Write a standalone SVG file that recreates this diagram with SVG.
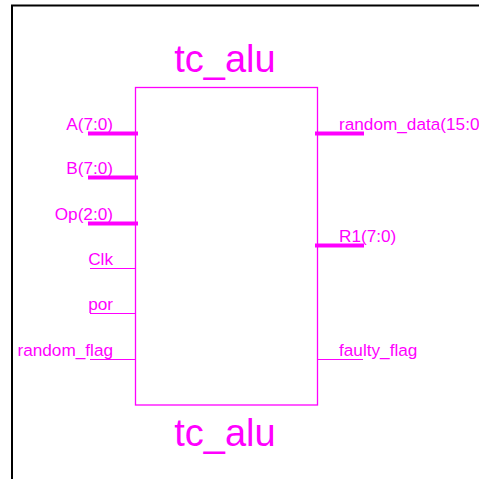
<svg xmlns="http://www.w3.org/2000/svg" width="479" height="479" viewBox="0 0 479 479">
<style>
.t{font-family:"Liberation Sans",Arial,sans-serif;fill:#ff00ff;font-size:17.2px}
.title{font-family:"Liberation Sans",Arial,sans-serif;fill:#ff00ff;font-size:38px;text-anchor:middle}
.l{text-anchor:end}
.bus{stroke:#ff00ff;stroke-width:4;fill:none}
.wire{stroke:#ff00ff;stroke-width:1;fill:none}
</style>
<rect width="479" height="479" fill="#ffffff"/>
<path d="M12,479 V5.5 H479" fill="none" stroke="#000000" stroke-width="2"/>
<g id="tc_alu">
<rect x="135.5" y="87.5" width="182" height="317.5" fill="none" stroke="#ff00ff" stroke-width="1.3"/>
<text class="title" x="225" y="72">tc_alu</text>
<text class="title" x="225" y="446">tc_alu</text>
</g>
<g id="connectors">
<line class="bus" x1="88" y1="133.5" x2="138" y2="133.5"/>
<line class="bus" x1="88" y1="177.5" x2="138" y2="177.5"/>
<line class="bus" x1="88" y1="223.5" x2="138" y2="223.5"/>
<line class="wire" x1="90" y1="268.5" x2="135.5" y2="268.5"/>
<line class="wire" x1="90" y1="313.5" x2="135.5" y2="313.5"/>
<line class="wire" x1="90" y1="359.5" x2="135.5" y2="359.5"/>
<line class="bus" x1="315" y1="133.5" x2="364" y2="133.5"/>
<line class="bus" x1="315" y1="245.5" x2="364" y2="245.5"/>
<line class="wire" x1="317.5" y1="359.5" x2="363" y2="359.5"/>
</g>
<g id="pin-labels">
<text class="t l" x="113" y="129.5">A(7:0)</text>
<text class="t l" x="113" y="173.5">B(7:0)</text>
<text class="t l" x="113" y="219.5">Op(2:0)</text>
<text class="t l" x="113" y="264.5">Clk</text>
<text class="t l" x="113" y="309.5">por</text>
<text class="t l" x="113" y="355.5">random_flag</text>
<text class="t" x="339" y="129.5">random_data(15:0</text>
<text class="t" x="339" y="241.5">R1(7:0)</text>
<text class="t" x="339" y="355.5">faulty_flag</text>
</g>
</svg>
